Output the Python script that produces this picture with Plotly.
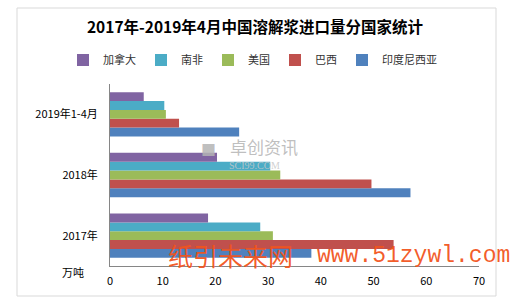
import plotly.graph_objects as go

categories = ["2017年", "2018年", "2019年1-4月"]
series_names = ["印度尼西亚", "巴西", "美国", "南非", "加拿大"]
indonesia = [38.2, 57.0, 24.5]
brazil = [53.8, 49.6, 13.1]
usa = [30.9, 32.3, 10.6]
south_africa = [28.5, 30.4, 10.3]
canada = [18.6, 20.3, 6.4]
series_values = [indonesia, brazil, usa, south_africa, canada]
colors = ["#4F81BD", "#C0504D", "#9BBB59", "#4BACC6", "#8064A2"]
x_ticks = [0, 10, 20, 30, 40, 50, 60, 70]

W, H = 521, 303
L, R, T, B = 110, 42, 84, 37
pw, ph = W - L - R, H - T - B

def px(x):
    return (x - L) / pw

def py(y):
    return (H - B - y) / ph

fig = go.Figure()
for name, vals, col in zip(series_names, series_values, colors):
    fig.add_trace(go.Bar(
        y=categories, x=vals, name=name, orientation="h",
        marker=dict(color=col, line=dict(width=0)),
    ))

font_main = "Noto Sans CJK SC"

fig.update_layout(
    width=W, height=H,
    margin=dict(l=L, r=R, t=T, b=B),
    paper_bgcolor="white", plot_bgcolor="white",
    barmode="group", bargap=0.27, bargroupgap=0,
    font=dict(family=font_main, size=11, color="#000000"),
    title=dict(
        text="<b>2017年-2019年4月中国溶解浆进口量分国家统计</b>",
        x=255 / W, xref="container", xanchor="center",
        y=1 - 28 / H, yref="container", yanchor="middle",
        font=dict(family=font_main, size=15.5, color="#000000"),
    ),
    legend=dict(
        orientation="h", traceorder="reversed",
        x=px(63), xref="paper", xanchor="left",
        y=py(60), yref="paper", yanchor="middle",
        font=dict(family=font_main, size=11, color="#333333"),
        itemwidth=30, bgcolor="rgba(0,0,0,0)",
    ),
    xaxis=dict(
        range=[0, 70], tickvals=x_ticks, ticktext=[str(v) for v in x_ticks],
        showgrid=False, zeroline=False,
        showline=True, linecolor="#868686", linewidth=1,
        ticks="outside", ticklen=5, tickcolor="rgba(0,0,0,0)",
        tickfont=dict(family=font_main, size=11, color="#000000"),
        fixedrange=True,
    ),
    yaxis=dict(
        showgrid=False, zeroline=False,
        showline=True, linecolor="#868686", linewidth=1,
        ticks="outside", ticklen=9, tickcolor="rgba(0,0,0,0)",
        tickfont=dict(family=font_main, size=11, color="#000000"),
        categoryorder="array", categoryarray=categories,
        fixedrange=True,
    ),
    showlegend=True,
)

# chart border
fig.add_shape(type="rect", xref="paper", yref="paper",
              x0=px(17), x1=px(496), y0=py(296), y1=py(8),
              line=dict(color="#D9D9D9", width=1), fillcolor="rgba(0,0,0,0)",
              layer="below")

# unit label
fig.add_annotation(text="万吨", xref="paper", yref="paper",
                   x=px(73), y=py(272), xanchor="center", yanchor="middle",
                   showarrow=False, font=dict(family=font_main, size=11, color="#000000"))

# gray watermark
fig.add_annotation(text="■", xref="paper", yref="paper",
                   x=px(199), y=py(149), xanchor="left", yanchor="middle",
                   showarrow=False,
                   font=dict(family=font_main, size=15, color="rgba(180,180,180,0.85)"))
fig.add_annotation(text="卓创资讯", xref="paper", yref="paper",
                   x=px(228), y=py(146), xanchor="left", yanchor="middle",
                   showarrow=False,
                   font=dict(family=font_main, size=17, color="rgba(180,180,180,0.85)"))
fig.add_annotation(text="SCI99.COM", xref="paper", yref="paper",
                   x=px(227), y=py(165), xanchor="left", yanchor="middle",
                   showarrow=False,
                   font=dict(family="Liberation Serif", size=10, color="rgba(200,200,200,0.85)"))

# red watermark
fig.add_annotation(text="纸引未来网", xref="paper", yref="paper",
                   x=px(166), y=py(255), xanchor="left", yanchor="middle",
                   showarrow=False,
                   font=dict(family=font_main, size=25, color="rgba(242,84,28,0.95)"))
fig.add_annotation(text="www.51zywl.com", xref="paper", yref="paper",
                   x=px(315), y=py(256), xanchor="left", yanchor="middle",
                   showarrow=False,
                   font=dict(family="Liberation Mono", size=23, color="rgba(242,84,28,0.95)"))

fig.write_html("out.html")
